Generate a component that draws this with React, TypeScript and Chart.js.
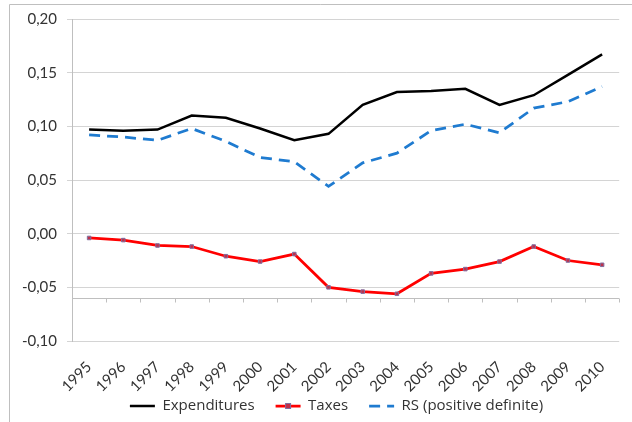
import React, { useEffect, useRef } from "react";
import { Chart, registerables } from "chart.js";

Chart.register(...registerables);

const years = ["1995", "1996", "1997", "1998", "1999", "2000", "2001", "2002", "2003", "2004", "2005", "2006", "2007", "2008", "2009", "2010"];
const expenditures = [0.097, 0.096, 0.097, 0.110, 0.108, 0.098, 0.087, 0.093, 0.120, 0.132, 0.133, 0.135, 0.120, 0.129, 0.148, 0.167];
const taxes = [-0.004, -0.006, -0.011, -0.012, -0.021, -0.026, -0.019, -0.050, -0.054, -0.056, -0.037, -0.033, -0.026, -0.012, -0.025, -0.029];
const rsPositiveDefinite = [0.092, 0.090, 0.087, 0.098, 0.086, 0.071, 0.067, 0.044, 0.066, 0.075, 0.096, 0.102, 0.094, 0.117, 0.123, 0.137];

const Y_MIN = -0.1;
const Y_MAX = 0.2;
const Y_STEP = 0.05;
const AXIS_CROSS = -0.06;

const FONT = "Lato, 'Open Sans', sans-serif";
const FONT_SIZE = 15;
const LEGEND_FONT = "'Open Sans', Lato, sans-serif";
const LEGEND_SIZE = 15;
const TEXT = "#333333";
const AXIS_COLOR = "#bfbfbf";
const GRID_COLOR = "#d4d4d4";

const decor = {
  id: "decor",
  afterLayout(chart: any) {
    const lg = chart.legend;
    if (!lg) return;
    const dy = chart.height + 1.5 - lg.height - lg.top;
    lg.top += dy;
    lg.bottom += dy;
    lg.left += 21;
    lg.right += 21;
  },
  beforeDraw(chart: any) {
    const { ctx, width, height } = chart;
    ctx.save();
    ctx.strokeStyle = AXIS_COLOR;
    ctx.lineWidth = 1;
    ctx.beginPath();
    ctx.moveTo(9.5, height);
    ctx.lineTo(9.5, 4.5);
    ctx.lineTo(width, 4.5);
    ctx.stroke();
    ctx.restore();
  },
  beforeDatasetsDraw(chart: any) {
    const { ctx, chartArea } = chart;
    const x = chart.scales.x;
    const y = chart.scales.y;
    const yy = Math.round(y.getPixelForValue(AXIS_CROSS)) + 0.5;
    const half = (x.getPixelForValue(1) - x.getPixelForValue(0)) / 2;
    ctx.save();
    ctx.strokeStyle = AXIS_COLOR;
    ctx.lineWidth = 1;
    ctx.beginPath();
    ctx.moveTo(chartArea.left, yy);
    ctx.lineTo(chartArea.right, yy);
    for (let i = 1; i <= years.length; i++) {
      const xx = Math.round(x.getPixelForValue(i) - half) + 0.5;
      ctx.moveTo(xx, yy);
      ctx.lineTo(xx, yy + 4);
    }
    ctx.stroke();
    ctx.restore();
  },
  afterDraw(chart: any) {
    const legend = chart.legend;
    if (!legend || !legend.legendHitBoxes) return;
    const hb = legend.legendHitBoxes[1];
    if (!hb) return;
    const { ctx } = chart;
    const cx = hb.left + 25 / 2;
    const cy = hb.top + LEGEND_SIZE / 2;
    ctx.save();
    ctx.fillStyle = "#c0304a";
    ctx.strokeStyle = "#7f6fa0";
    ctx.lineWidth = 1;
    ctx.fillRect(cx - 2.5, cy - 2.5, 5, 5);
    ctx.strokeRect(cx - 2.5, cy - 2.5, 5, 5);
    ctx.restore();
  },
};

export default function App() {
  const canvasRef = useRef<HTMLCanvasElement | null>(null);

  useEffect(() => {
    if (!canvasRef.current) return;
    const chart = new Chart(canvasRef.current, {
      type: "line",
      data: {
        labels: years,
        datasets: [
          {
            label: "Expenditures",
            data: expenditures,
            borderColor: "#000000",
            backgroundColor: "#000000",
            borderWidth: 2.5,
            pointRadius: 0,
            tension: 0,
          },
          {
            label: "Taxes",
            data: taxes,
            borderColor: "#ff0000",
            backgroundColor: "#c0304a",
            borderWidth: 2.75,
            pointRadius: 2.5,
            pointStyle: "rect",
            pointBorderColor: "#7f6fa0",
            pointBorderWidth: 1,
            pointBackgroundColor: "#c0304a",
            tension: 0,
          },
          {
            label: "RS (positive definite)",
            data: rsPositiveDefinite,
            borderColor: "#1f7bd0",
            backgroundColor: "#1f7bd0",
            borderWidth: 2.75,
            borderDash: [11, 7],
            pointRadius: 0,
            tension: 0,
          },
        ],
      },
      options: {
        animation: false,
        responsive: false,
        maintainAspectRatio: false,
        layout: { padding: { left: 0, right: 1, top: 15, bottom: -25 } },
        plugins: {
          tooltip: { enabled: false },
          legend: {
            position: "bottom",
            labels: {
              usePointStyle: true,
              pointStyleWidth: 25,
              boxHeight: LEGEND_SIZE,
              padding: 21,
              color: TEXT,
              font: { family: LEGEND_FONT, size: LEGEND_SIZE },
              generateLabels: (c: any) =>
                c.data.datasets.map((ds: any, i: number) => ({
                  text: ds.label,
                  fillStyle: ds.borderColor,
                  strokeStyle: ds.borderColor,
                  lineWidth: ds.borderWidth,
                  lineDash: ds.borderDash || [],
                  pointStyle: "line",
                  datasetIndex: i,
                  hidden: false,
                  fontColor: TEXT,
                })),
            },
          },
        },
        scales: {
          x: {
            type: "category",
            offset: true,
            grid: { display: false, drawTicks: false },
            border: { display: false },
            ticks: {
              minRotation: 45,
              maxRotation: 45,
              autoSkip: false,
              padding: 17,
              color: TEXT,
              font: { family: FONT, size: FONT_SIZE },
            },
            afterFit: (scale: any) => {
              scale.height = 60;
            },
          },
          y: {
            min: Y_MIN,
            max: Y_MAX,
            ticks: {
              stepSize: Y_STEP,
              padding: 10,
              color: TEXT,
              font: { family: FONT, size: FONT_SIZE },
              callback: (v: any) => Number(v).toFixed(2).replace(".", ","),
            },
            grid: { color: GRID_COLOR, tickLength: 5 },
            border: { color: AXIS_COLOR },
            afterFit: (scale: any) => {
              scale.width = 72;
            },
          },
        },
      },
      plugins: [decor],
    });
    return () => chart.destroy();
  }, []);

  return (
    <div style={{ position: "fixed", left: 0, top: 0, width: 632, height: 422, background: "#ffffff" }}>
      <canvas ref={canvasRef} width={632} height={422} style={{ display: "block" }} />
    </div>
  );
}
